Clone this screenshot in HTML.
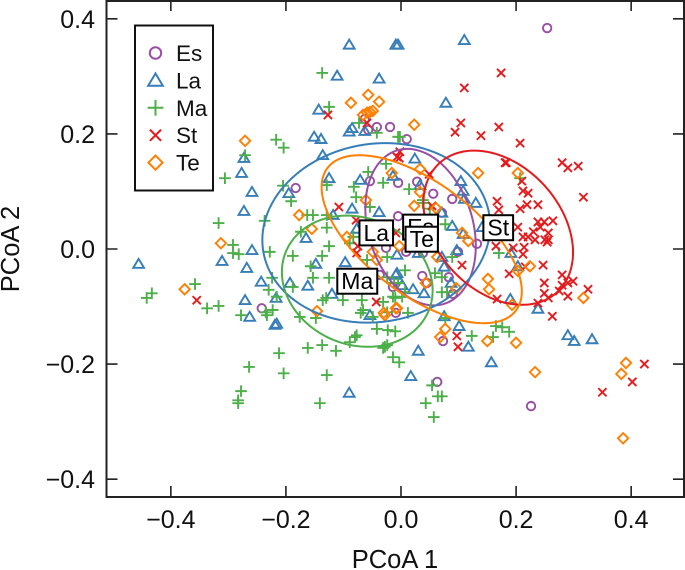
<!DOCTYPE html>
<html>
<head>
<meta charset="utf-8">
<style>
html,body{margin:0;padding:0;background:#fff;width:685px;height:570px;overflow:hidden}
svg{display:block}
text{font-family:"Liberation Sans",sans-serif;fill:#111}
</style>
</head>
<body>
<svg id="chart" width="685" height="570" viewBox="0 0 685 570" xmlns="http://www.w3.org/2000/svg"></svg>
<script>
const xTicks = [-0.4, -0.2, 0, 0.2, 0.4];
const yTicks = [-0.4, -0.2, 0, 0.2, 0.4];
const seriesNames = ['Es', 'La', 'Ma', 'St', 'Te'];
const seriesColors = ['#984ea3', '#377eb8', '#4daf4a', '#e41a1c', '#ff7f00'];

const esPoints = [[-.063,.226],[-.057,.207],[-.042,.212],[-.019,.212],[-.183,.106],[-.054,.118],[-.005,.115],[-.005,.057],[.254,.384],[.010,.191],[.028,.117],[.056,.096],[.089,.087],[.071,.063],[.132,.009],[-.026,.002],[.009,-.005],[.037,-.047],[.083,-.049],[.090,-.078],[.099,-.005],[.045,-.059],[-.009,-.111],[.073,-.160],[.063,-.231],[.226,-.273],[.038,-.007],[-.242,-.103],[-.037,-.045],[-.014,-.066]];
const laPoints = [[-.090,.355],[-.009,.355],[-.005,.355],[-.111,.301],[-.038,.296],[-.143,.242],[-.085,.210],[-.090,.204],[-.063,.205],[-.151,.195],[-.139,.191],[-.136,.163],[-.273,.158],[-.277,.132],[-.259,.099],[-.195,.097],[-.125,.123],[-.071,.120],[-.014,.127],[-.273,.066],[-.085,.070],[-.038,.064],[-.118,.059],[-.165,.019],[-.077,.035],[-.259,-.002],[.110,.363],[.078,.254],[.024,.157],[.033,.111],[.104,.118],[.108,.101],[.110,.087],[.130,.080],[.071,.063],[.089,.040],[.108,.026],[.141,.038],[.097,-.002],[-.456,-.026],[-.311,-.021],[-.268,-.033],[-.243,-.057],[-.193,-.059],[-.162,-.064],[-.148,-.026],[-.097,-.023],[-.120,-.078],[-.271,-.089],[-.217,-.085],[-.263,-.118],[-.219,-.132],[-.216,-.130],[-.054,-.115],[-.090,-.250],[-.009,-.045],[-.007,-.010],[.030,-.007],[.071,-.014],[.191,-.007],[.203,-.030],[.075,-.031],[-.007,-.042],[.002,-.063],[.021,-.070],[.040,-.077],[.087,-.059],[.190,-.087],[.238,-.104],[.075,-.117],[.101,-.134],[.290,-.150],[.301,-.160],[.332,-.157],[.117,-.170],[.030,-.177],[.157,-.197],[.017,-.221]];
const maPoints = [[-.137,.306],[-.125,.247],[-.073,.219],[-.042,.202],[-.005,.195],[-.217,.190],[-.204,.176],[-.271,.163],[-.306,.123],[-.205,.110],[-.191,.083],[-.129,.111],[-.057,.134],[-.026,.148],[-.031,.115],[-.082,.108],[-.078,.090],[-.054,.073],[-.163,.059],[-.153,.059],[-.129,.059],[-.237,.049],[-.317,.045],[-.174,.030],[-.129,.037],[-.292,.007],[-.125,.005],[-.083,.021],[-.089,.010],[-.002,.195],[.014,.104],[.038,.085],[.038,.080],[.050,.070],[.077,.043],[.207,.123],[-.292,-.007],[-.282,-.009],[-.228,-.005],[-.188,-.012],[-.137,-.012],[-.157,-.030],[-.153,-.050],[-.125,-.050],[-.059,-.019],[-.024,-.014],[-.224,-.050],[-.230,-.071],[-.188,-.066],[-.216,-.083],[-.358,-.061],[-.433,-.077],[-.442,-.085],[-.337,-.103],[-.317,-.099],[-.278,-.115],[-.235,-.110],[-.223,-.106],[-.233,-.115],[-.176,-.118],[-.148,-.120],[-.136,-.089],[-.130,-.085],[-.101,-.089],[-.068,-.089],[-.066,-.106],[-.070,-.111],[-.049,-.118],[-.031,-.092],[-.010,-.085],[-.012,-.059],[-.042,-.139],[-.023,-.141],[-.010,-.143],[-.077,-.150],[-.080,-.153],[-.089,-.162],[-.028,-.170],[-.031,-.172],[-.162,-.172],[-.137,-.167],[-.113,-.177],[-.212,-.181],[-.264,-.205],[-.204,-.216],[-.129,-.219],[-.278,-.247],[-.283,-.263],[-.283,-.268],[-.141,-.268],[-.014,-.188],[-.003,-.197],[.089,-.014],[.170,-.007],[.007,-.037],[.059,-.042],[.071,-.049],[.071,-.075],[.080,-.075],[-.005,-.059],[.007,-.075],[-.014,-.083],[.002,-.083],[-.024,-.049],[-.024,-.110],[.012,-.111],[.077,-.120],[.165,-.134],[.176,-.136],[.188,-.144],[.160,-.153],[.123,-.151],[-.024,-.167],[.054,-.237],[.064,-.256],[.071,-.256],[.043,-.268],[.057,-.292]];
const stPoints = [[-.127,.233],[-.059,.219],[-.108,.073],[-.078,.050],[-.007,.160],[-.009,.028],[-.075,.005],[.174,.306],[.110,.280],[.104,.219],[.094,.203],[.170,.212],[.139,.197],[.207,.184],[-.002,.169],[-.003,.158],[.049,.130],[.181,.150],[.183,.150],[.280,.150],[.290,.141],[.308,.144],[.210,.118],[.317,.090],[.212,.101],[.221,.097],[.219,.077],[.238,.077],[.207,.070],[.167,.083],[.170,.068],[.054,.075],[.264,.049],[.249,.047],[.238,.047],[.242,.038],[.230,.030],[.221,.021],[.212,.021],[.233,.016],[.256,.028],[.250,.016],[.256,.016],[.203,.038],[.165,.005],[.195,.002],[.214,.003],[.212,-.009],[.254,.012],[.106,-.028],[.247,-.028],[.216,-.031],[.188,-.043],[.280,-.045],[.249,-.059],[.280,-.063],[.290,-.059],[.299,-.056],[.249,-.077],[.275,-.073],[.290,-.082],[.256,-.085],[.325,-.070],[.238,-.094],[.167,-.087],[.263,-.117],[.097,-.151],[.099,-.170],[.350,-.249],[.402,-.231],[.423,-.200],[-.355,-.089],[-.043,-.092],[-.077,-.007]];
const tePoints = [[-.057,.268],[-.087,.254],[-.038,.256],[-.066,.233],[-.059,.237],[-.054,.238],[-.049,.240],[-.271,.188],[-.016,.132],[-.061,.085],[-.177,.059],[-.155,.035],[-.094,.021],[-.313,.010],[.023,.216],[.033,.139],[.134,.132],[.203,.132],[.033,.099],[.023,.075],[.061,.071],[.106,.028],[.117,.014],[-.003,.005],[-.049,-.005],[-.042,-.019],[.063,-.014],[.043,-.059],[.096,-.068],[.203,-.038],[.224,-.030],[.151,-.052],[.153,-.070],[.193,-.097],[-.007,-.103],[.077,-.139],[.068,-.153],[.150,-.160],[.200,-.163],[.317,-.085],[.233,-.214],[.391,-.198],[.383,-.217],[.386,-.329],[-.028,-.115],[-.376,-.070],[-.146,-.108],[-.030,-.111],[-.009,-.103]];

// ellipse statistics per series: centre, half extents, correlation
const centreX = [.034, -.043, -.076, .169, .036];
const centreY = [.038, .028, -.056, .037, .017];
const extentX = [.096, .198, .131, .130, .174];
const extentY = [.136, .156, .114, .134, .146];
const correlation = [-.24, .08, -.14, -.32, -.62];

const allPoints = [esPoints, laPoints, maPoints, stPoints, tePoints];

const NS = 'http://www.w3.org/2000/svg';
const svg = document.getElementById('chart');
const sx = v => 401 + 575.4 * v;
const sy = v => 249 - 575.4 * v;
const PL = 106.5, PR = 684, PT = 1, PB = 497;

function add(parent, tag, attrs, txt) {
  const e = document.createElementNS(NS, tag);
  for (const k in attrs) e.setAttribute(k, attrs[k]);
  if (txt !== undefined) e.textContent = txt;
  parent.appendChild(e);
  return e;
}
function fmt(v) {
  if (v === 0) return '0.0';
  return (v < 0 ? '\u2212' : '') + Math.abs(v).toFixed(1);
}
function marker(parent, kind, x, y, s, color, w) {
  let d;
  if (kind === 0) {
    return add(parent, 'circle', {cx: x, cy: y, r: 4.2 * s, fill: 'none', stroke: color, 'stroke-width': w});
  } else if (kind === 1) {
    d = `M${x - 5.4 * s} ${y + 3.9 * s}L${x + 5.4 * s} ${y + 3.9 * s}L${x} ${y - 5.1 * s}Z`;
  } else if (kind === 2) {
    d = `M${x - 5.8 * s} ${y}H${x + 5.8 * s}M${x} ${y - 5.8 * s}V${y + 5.8 * s}`;
  } else if (kind === 3) {
    d = `M${x - 4.1 * s} ${y - 4.1 * s}L${x + 4.1 * s} ${y + 4.1 * s}M${x - 4.1 * s} ${y + 4.1 * s}L${x + 4.1 * s} ${y - 4.1 * s}`;
  } else {
    d = `M${x - 5.2 * s} ${y}L${x} ${y - 5.2 * s}L${x + 5.2 * s} ${y}L${x} ${y + 5.2 * s}Z`;
  }
  return add(parent, 'path', {d: d, fill: 'none', stroke: color, 'stroke-width': w, 'stroke-linejoin': 'miter'});
}

// points
allPoints.forEach((pts, i) => {
  const g = add(svg, 'g', {});
  
  
  pts.forEach(p => {
    const m = marker(g, i, sx(p[0]), sy(p[1]), 1, seriesColors[i], 1.9);
    
    
  });
});

// ellipses
seriesNames.forEach((n, i) => {
  const r = correlation[i], q = Math.sqrt(1 - r * r);
  let d = '';
  for (let k = 0; k <= 120; k++) {
    const t = k / 120 * 2 * Math.PI;
    const vx = centreX[i] + extentX[i] * Math.cos(t);
    const vy = centreY[i] + extentY[i] * (r * Math.cos(t) + q * Math.sin(t));
    d += (k ? 'L' : 'M') + sx(vx).toFixed(2) + ' ' + sy(vy).toFixed(2);
  }
  const e = add(svg, 'path', {d: d + 'Z', fill: 'none', stroke: seriesColors[i], 'stroke-width': 2});
  
  
});

// centroid labels
const labelOrder = [0, 1, 2, 3, 4];
labelOrder.forEach(i => {
  const cx = sx(centreX[i]), cy = sy(centreY[i]);
  const g = add(svg, 'g', {});
  
  
  const t = add(g, 'text', {x: cx, y: cy + 8, 'text-anchor': 'middle', 'font-size': 23, style: 'fill:#000'}, seriesNames[i]);
  const w = t.getComputedTextLength() + 8;
  const rect = add(g, 'rect', {x: cx - w / 2, y: cy - 12.5, width: w, height: 25, fill: '#fff', stroke: '#000', 'stroke-width': 2});
  g.insertBefore(rect, t);
});

// frame and ticks
const frame = add(svg, 'rect', {x: PL, y: PT, width: PR - PL, height: PB - PT, fill: 'none', stroke: '#222', 'stroke-width': 2});



xTicks.forEach(v => {
  const x = sx(v);
  const t1 = add(svg, 'path', {d: `M${x} ${PB}V${PB - 11}M${x} ${PT}V${PT + 10}`, stroke: '#222', 'stroke-width': 1.6, fill: 'none'});
  
  
  const l = add(svg, 'text', {x: x, y: 528, 'text-anchor': 'middle', 'font-size': 25}, fmt(v));
  
  
});
yTicks.forEach(v => {
  const y = sy(v);
  const t1 = add(svg, 'path', {d: `M${PL} ${y}H${PL + 11}M${PR} ${y}H${PR - 11}`, stroke: '#222', 'stroke-width': 1.6, fill: 'none'});
  
  
  const l = add(svg, 'text', {x: 95, y: y + 9, 'text-anchor': 'end', 'font-size': 25}, fmt(v));
  
  
});

// axis titles
const xt = add(svg, 'text', {x: 395, y: 568, 'text-anchor': 'middle', 'font-size': 25.5}, 'PCoA 1');


const yt = add(svg, 'text', {x: 0, y: 0, 'text-anchor': 'middle', 'font-size': 25.5, transform: 'translate(19,249) rotate(-90)'}, 'PCoA 2');



// legend
const lg = add(svg, 'g', {});


add(lg, 'rect', {x: 135, y: 25.5, width: 78, height: 165, fill: '#fff', stroke: '#111', 'stroke-width': 2});
seriesNames.forEach((n, i) => {
  const y = 53 + i * 27.4;
  const g = add(lg, 'g', {});
  
  
  marker(g, i, 155.5, y, 1.36, seriesColors[i], 2);
  add(g, 'text', {x: 176, y: y + 8, 'font-size': 22.5}, n);
});
</script>
</body>
</html>
